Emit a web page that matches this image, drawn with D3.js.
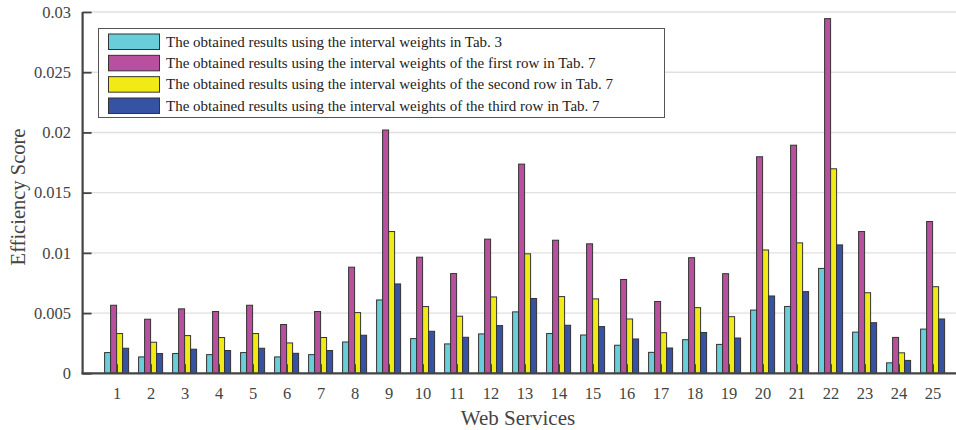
<!DOCTYPE html>
<html>
<head>
<meta charset="utf-8">
<script src="https://cdn.jsdelivr.net/npm/d3@7"></script>
<style>
  html, body { margin: 0; padding: 0; background: #fff; }
  svg { display: block; }
  text { font-family: "Liberation Serif", "Times New Roman", serif; }
</style>
</head>
<body>
<svg id="chart" width="956" height="430"></svg>
<script>
// Web services 1..25
const services = d3.range(1, 26);

// Efficiency scores for each weighting scheme
const tab3 = [0.00172, 0.00136, 0.00164, 0.00155, 0.00172, 0.00136, 0.00155, 0.00260, 0.00609, 0.00288,
              0.00244, 0.00327, 0.00510, 0.00330, 0.00318, 0.00233, 0.00174, 0.00279, 0.00240, 0.00525,
              0.00555, 0.00871, 0.00342, 0.00087, 0.00367];
const tab7Row1 = [0.00565, 0.00449, 0.00535, 0.00513, 0.00565, 0.00405, 0.00513, 0.00881, 0.02020, 0.00964,
                  0.00828, 0.01114, 0.01737, 0.01105, 0.01075, 0.00779, 0.00596, 0.00960, 0.00827, 0.01798,
                  0.01894, 0.02945, 0.01177, 0.00298, 0.01260];
const tab7Row2 = [0.00330, 0.00258, 0.00313, 0.00297, 0.00330, 0.00252, 0.00297, 0.00504, 0.01177, 0.00554,
                  0.00474, 0.00634, 0.00992, 0.00637, 0.00618, 0.00451, 0.00337, 0.00545, 0.00470, 0.01024,
                  0.01083, 0.01698, 0.00669, 0.00170, 0.00719];
const tab7Row3 = [0.00208, 0.00164, 0.00200, 0.00189, 0.00208, 0.00166, 0.00189, 0.00316, 0.00742, 0.00349,
                  0.00299, 0.00396, 0.00621, 0.00399, 0.00388, 0.00285, 0.00210, 0.00339, 0.00293, 0.00642,
                  0.00678, 0.01066, 0.00420, 0.00107, 0.00451];

const seriesNames = [
  "The obtained results using the interval weights in Tab. 3",
  "The obtained results using the interval weights of the first row in Tab. 7",
  "The obtained results using the interval weights of the second row in Tab. 7",
  "The obtained results using the interval weights of the third row in Tab. 7"
];
const seriesValues = [tab3, tab7Row1, tab7Row2, tab7Row3];
const seriesColors = ["#6acdda", "#b8509f", "#f2ea15", "#3652a2"];

const yTicks = [0, 0.005, 0.01, 0.015, 0.02, 0.025, 0.03];
const yTickLabels = ["0", "0.005", "0.01", "0.015", "0.02", "0.025", "0.03"];

const svg = d3.select("#chart");

// plot box (the right side runs past the page edge)
const plotL = 82.6, plotR = 966.6, plotT = 12, plotB = 373.3;

const x = d3.scaleLinear().domain([0, 26]).range([plotL, plotR]);
const y = d3.scaleLinear().domain([0, 0.03]).range([plotB, plotT]);

const unit = x(1) - x(0);
const inner = d3.scaleBand()
  .domain(d3.range(seriesValues.length))
  .range([-0.353 * unit, 0.353 * unit])
  .paddingInner(0);

// horizontal grid
svg.append("g")
  .selectAll("line")
  .data(yTicks)
  .join("line")
  .attr("x1", plotL).attr("x2", plotR)
  .attr("y1", d => y(d)).attr("y2", d => y(d))
  .attr("stroke", "#e0e0e0")
  .attr("stroke-width", 1.4);

// bars
const gBars = svg.append("g");
seriesValues.forEach((vals, si) => {
  gBars.append("g")
    .selectAll("rect")
    .data(vals)
    .join("rect")
    .attr("x", (d, i) => x(services[i]) + inner(si))
    .attr("y", d => y(d))
    .attr("width", inner.bandwidth())
    .attr("height", d => y(0) - y(d))
    .attr("fill", seriesColors[si])
    .attr("stroke", "#333")
    .attr("stroke-width", 1);
});

// axes
const axisColor = "#444";
const yAxis = svg.append("g")
  .attr("transform", `translate(${plotL},0)`)
  .call(d3.axisLeft(y)
    .tickValues(yTicks)
    .tickFormat((d, i) => yTickLabels[i])
    .tickSize(-9)
    .tickPadding(11.5));
const xAxis = svg.append("g")
  .attr("transform", `translate(0,${plotB})`)
  .call(d3.axisBottom(x)
    .tickValues(services)
    .tickFormat(d => String(d))
    .tickSize(-9)
    .tickPadding(14));

[yAxis, xAxis].forEach(g => {
  g.select(".domain").attr("stroke", axisColor).attr("stroke-width", 2.2);
  g.selectAll(".tick line").attr("stroke", axisColor).attr("stroke-width", 1.8);
  g.selectAll(".tick text")
    .attr("fill", "#444")
    .style("font-family", '"Liberation Serif", serif')
    .style("font-size", "16.5px");
});
// plain axis lines without end caps
yAxis.select(".domain").attr("d", `M0,${plotB + 1}V${plotT}`);
xAxis.select(".domain").attr("d", `M${plotL - 1},0H${plotR}`);

// axis titles
svg.append("text")
  .attr("transform", `translate(25,197) rotate(-90)`)
  .attr("text-anchor", "middle")
  .attr("fill", "#444")
  .style("font-size", "20.5px")
  .text("Efficiency Score");

svg.append("text")
  .attr("x", 518)
  .attr("y", 425)
  .attr("text-anchor", "middle")
  .attr("fill", "#444")
  .style("font-size", "21px")
  .text("Web Services");

// legend
const legend = svg.append("g");
legend.append("rect")
  .attr("x", 98.5).attr("y", 28.5)
  .attr("width", 566).attr("height", 89)
  .attr("fill", "#fff")
  .attr("stroke", "#555")
  .attr("stroke-width", 1);

const rowY = d3.scalePoint().domain(d3.range(seriesNames.length)).range([41.5, 105.5]);
const rows = legend.selectAll("g.row")
  .data(seriesNames)
  .join("g")
  .attr("class", "row")
  .attr("transform", (d, i) => `translate(0,${rowY(i)})`);
rows.append("rect")
  .attr("x", 108.5).attr("y", -7.5)
  .attr("width", 51).attr("height", 15.5)
  .attr("fill", (d, i) => seriesColors[i])
  .attr("stroke", "#333")
  .attr("stroke-width", 1);
rows.append("text")
  .attr("x", 166)
  .attr("y", 0)
  .attr("dy", "0.35em")
  .attr("fill", "#222")
  .style("font-size", "15px")
  .text(d => d);
</script>
</body>
</html>
